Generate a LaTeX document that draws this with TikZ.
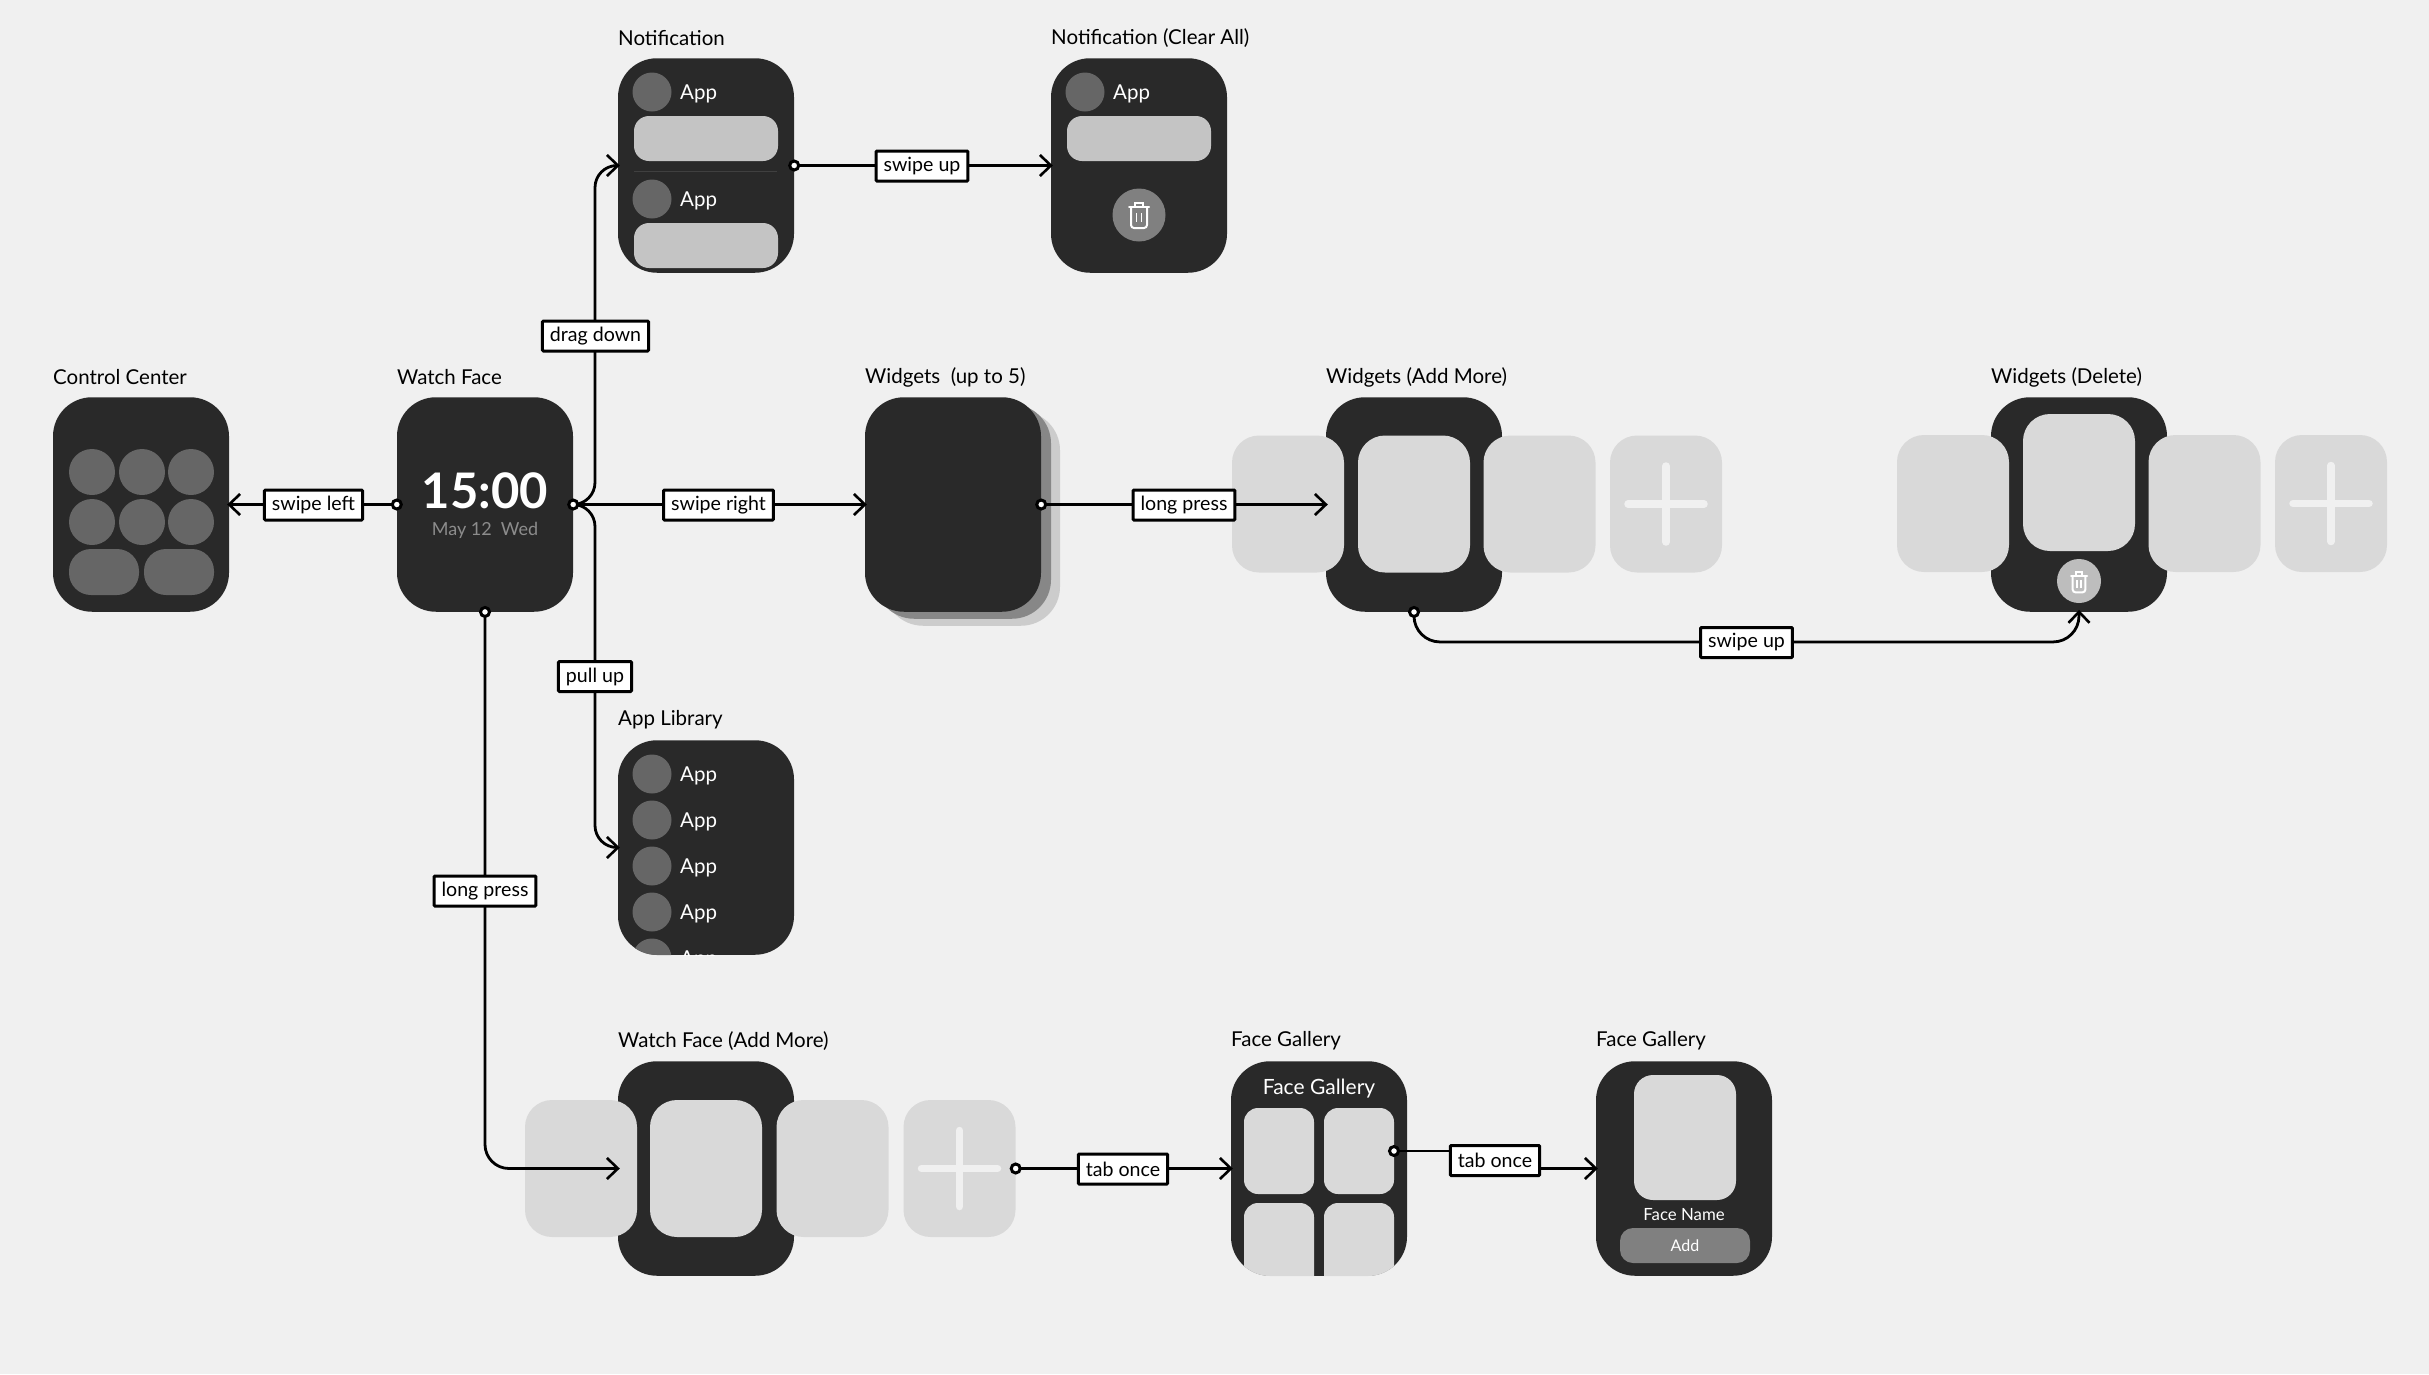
\documentclass[tikz,border=0pt]{standalone}
\usepackage{fontspec}
\setmainfont{Lato}
\usetikzlibrary{arrows.meta}

\definecolor{pagebg}{HTML}{F0F0F0}
\definecolor{screendark}{HTML}{292929}
\definecolor{tilegray}{HTML}{D9D9D9}
\definecolor{circgray}{HTML}{666666}
\definecolor{bargray}{HTML}{C4C4C4}

\tikzset{
  screen/.style={fill=screendark,rounded corners=39pt,minimum width=176pt,minimum height=214.5pt,inner sep=0pt},
  tile/.style={fill=tilegray,rounded corners=27pt,minimum width=112pt,minimum height=137pt,inner sep=0pt},
  title/.style={anchor=west,inner sep=0pt,font=\fontsize{20.5}{22}\selectfont,text=black},
  applabel/.style={anchor=west,inner sep=0pt,font=\fontsize{20.5}{22}\selectfont,text=white},
  tag/.style={draw=black,fill=white,line width=3pt,rounded corners=1pt,minimum height=30pt,inner xsep=7.5pt,inner ysep=0pt,font=\fontsize{19.6}{22}\selectfont},
  link/.style={draw=black,line width=2.8pt,shorten >=-2pt,-{Straight Barb[length=11pt,width=21pt,line width=2.6pt]}},
  dot/.style={circle,draw=black,fill=white,line width=3pt,minimum size=9pt,inner sep=0pt},
  trashcan/.pic={
    \draw[white,line width=2pt,line cap=round] (-10,-8) -- (10,-8);
    \draw[white,line width=2pt] (-4,-8) -- (-4,-12) -- (4,-12) -- (4,-8);
    \draw[white,line width=2pt,rounded corners=3pt] (-8,-8) -- (-8,13) -- (8,13) -- (8,-8);
    \draw[white,line width=1.6pt] (-2.5,-2) -- (-2.5,7) (2.5,-2) -- (2.5,7);
  },
  plusmark/.pic={
    \draw[pagebg,line width=7.5pt,line cap=round] (-38,0) -- (38,0) (0,-38) -- (0,38);
  }
}

\begin{document}
\begin{tikzpicture}[x=1pt,y=-1pt]
  \fill[pagebg] (0,0) rectangle (2429,1374);
  \useasboundingbox (0,0) rectangle (2429,1374);

  % Titles
  \node[title] (t1) at (53,377) {Control Center};
  \node[title] (t2) at (397,377) {Watch Face};
  \node[title] (t3) at (618,38) {Notification};
  \node[title] (t4) at (1051,38) {Notification (Clear All)};
  \node[title] (t5) at (865,377) {Widgets~~(up to 5)};
  \node[title] (t6) at (1326,377) {Widgets (Add More)};
  \node[title] (t7) at (1991,377) {Widgets (Delete)};
  \node[title] (t8) at (618,720) {App Library};
  \node[title] (t9) at (618,1041) {Watch Face (Add More)};
  \node[title] (t10) at (1231,1041) {Face Gallery};
  \node[title] (t11) at (1596,1041) {Face Gallery};

  % Control center
  \node[screen] (control) at (141,504.5) {};
  \foreach \px in {92,142,191} {
    \foreach \py in {472,522} {
      \fill[circgray] (\px,\py) circle (23);
    }
  }
  \fill[circgray,rounded corners=22pt] (69,549) rectangle (139,595);
  \fill[circgray,rounded corners=22pt] (144,549) rectangle (214,595);

  % Watch face
  \node[screen] (watch) at (485,504.5) {};
  \node[text=white,inner sep=0pt,font=\fontsize{49}{56}\selectfont\bfseries] (clock) at (485,491) {15:00};
  \node[text=black!45,inner sep=0pt,font=\fontsize{18}{22}\selectfont] (date) at (485,530) {May 12~~Wed};

  % Notification
  \node[screen] (notif) at (706,165.5) {};
  \foreach \py in {92,199} {
    \fill[circgray] (652,\py) circle (19.5);
    \node[applabel] at (680,\py+2) {App};
  }
  \fill[bargray,rounded corners=15pt] (634,116) rectangle (778,161);
  \draw[black!75,line width=0.8pt] (634,171) -- (777,171);
  \fill[bargray,rounded corners=15pt] (634,223) rectangle (778,268);

  % Notification clear all
  \node[screen] (clearall) at (1139,165.5) {};
  \fill[circgray] (1085,92) circle (19.5);
  \node[applabel] at (1113,94) {App};
  \fill[bargray,rounded corners=15pt] (1067,116) rectangle (1211,161);
  \fill[black!50] (1139,215) circle (26.5);
  \pic at (1139,215) {trashcan};

  % Widgets, stack of three
  \node[screen,fill=black!20] (widgetsc) at (972,518.5) {};
  \node[screen,fill=black!47] (widgetsb) at (963,511.5) {};
  \node[screen] (widgets) at (953,504.5) {};

  % Widgets add more
  \node[screen] (addwidgets) at (1414,504.5) {};
  \node[tile] (aw1) at (1288,504) {};
  \node[tile] (aw2) at (1414,504) {};
  \node[tile] (aw3) at (1539.5,504) {};
  \node[tile] (aw4) at (1666,504) {};
  \pic at (aw4) {plusmark};

  % Widgets delete
  \node[screen] (delwidgets) at (2079,504.5) {};
  \node[tile] (dw1) at (1953,503.5) {};
  \node[tile] (dw2) at (2079,482.5) {};
  \node[tile] (dw3) at (2204.5,503.5) {};
  \node[tile] (dw4) at (2331,503.5) {};
  \pic at (dw4) {plusmark};
  \fill[black!26] (2079,581) circle (22);
  \pic[scale=0.8] at (2079,582) {trashcan};

  % App library
  \node[screen] (applib) at (706,847.5) {};
  \begin{scope}
    \clip[rounded corners=39pt] (618,740) rectangle (794,955);
    \foreach \py in {774,820,866,912,958} {
      \fill[circgray] (652,\py) circle (19.5);
      \node[applabel] at (680,\py+2) {App};
    }
  \end{scope}

  % Watch face add more
  \node[screen] (addface) at (706,1168.5) {};
  \node[tile] (af1) at (581,1168.5) {};
  \node[tile] (af2) at (706,1168.5) {};
  \node[tile] (af3) at (832.5,1168.5) {};
  \node[tile] (af4) at (959.5,1168.5) {};
  \pic at (af4) {plusmark};

  % Face gallery
  \node[screen] (gallery) at (1319,1168.5) {};
  \node[text=white,inner sep=0pt,font=\fontsize{21}{24}\selectfont] (gtitle) at (1319,1089) {Face Gallery};
  \begin{scope}
    \clip[rounded corners=39pt] (1231,1061) rectangle (1407,1276);
    \foreach \px in {1244,1324} {
      \fill[tilegray,rounded corners=14pt] (\px,1108) rectangle (\px+70,1194);
      \fill[tilegray,rounded corners=14pt] (\px,1203) rectangle (\px+70,1300);
    }
  \end{scope}

  % Face detail
  \node[screen] (detail) at (1684,1168.5) {};
  \fill[tilegray,rounded corners=19pt] (1634,1075) rectangle (1736,1200);
  \node[text=white,inner sep=0pt,font=\fontsize{16.8}{18}\selectfont] (fname) at (1684,1215) {Face Name};
  \fill[black!50,rounded corners=13pt] (1620,1228) rectangle (1750,1263);
  \node[text=white,inner sep=0pt,font=\fontsize{16}{18}\selectfont] (fadd) at (1685,1246) {Add};

  % Connectors
  \coordinate (trunk) at (595,504.5);
  \coordinate (galleryout) at (1394,1151);
  \coordinate (bendd) at (1495,1151);
  \coordinate (bende) at (1495,1168.5);
  \draw[link] (watch.west) -- (control.east);
  \draw[link] (watch.east) -- (widgets.west);
  \draw[link,rounded corners=22pt] (watch.east) -- (trunk) |- (notif.west);
  \draw[link,rounded corners=22pt] (watch.east) -- (trunk) |- (applib.west);
  \draw[link,rounded corners=24pt] (watch.south) |- (addface.west);
  \draw[link] (notif.east) -- (clearall.west);
  \draw[link] (widgets.east) -- (addwidgets.west);
  \draw[link,rounded corners=26pt] (addwidgets.south) -- ++(0,30) -| (delwidgets.south);
  \draw[link] (af4.east) -- (gallery.west);
  \draw[link] (galleryout) -- (bendd) -- (bende) -- (detail.west);

  % Dots
  \node[dot] (d1) at (watch.west) {};
  \node[dot] (d2) at (watch.east) {};
  \node[dot] (d3) at (watch.south) {};
  \node[dot] (d4) at (notif.east) {};
  \node[dot] (d5) at (widgets.east) {};
  \node[dot] (d6) at (addwidgets.south) {};
  \node[dot] (d7) at (af4.east) {};
  \node[dot] (d8) at (galleryout) {};

  % Labels
  \node[tag] (l1) at (313.5,505) {swipe left};
  \node[tag] (l2) at (595.5,336) {drag down};
  \node[tag] (l3) at (718.5,505) {swipe right};
  \node[tag] (l4) at (595,676.5) {pull up};
  \node[tag] (l5) at (922,166) {swipe up};
  \node[tag] (l6) at (1184,505) {long press};
  \node[tag] (l7) at (1746.5,642.5) {swipe up};
  \node[tag] (l8) at (485,891) {long press};
  \node[tag] (l9) at (1123,1169) {tab once};
  \node[tag] (l10) at (1495,1160.5) {tab once};
\end{tikzpicture}
\end{document}
